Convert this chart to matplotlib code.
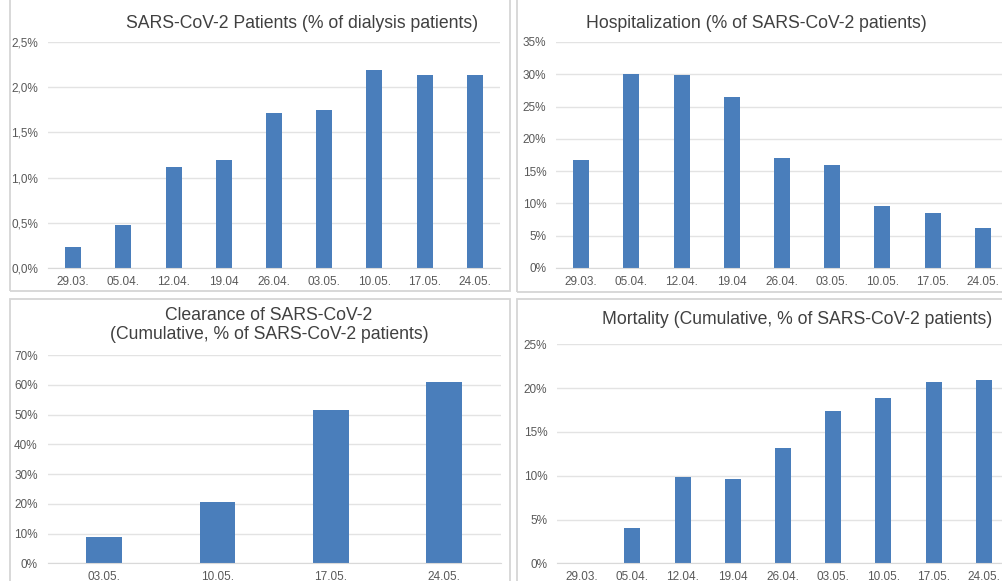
import matplotlib.pyplot as plt
from matplotlib.patches import Rectangle
from matplotlib.ticker import FuncFormatter

plt.rcParams['font.family'] = ['Liberation Sans', 'DejaVu Sans']

# data
dates = ['29.03.', '05.04.', '12.04.', '19.04', '26.04.', '03.05.', '10.05.', '17.05.', '24.05.']
patients_pct = [0.23, 0.48, 1.12, 1.20, 1.72, 1.75, 2.19, 2.13, 2.14]
hosp_pct = [16.7, 30.1, 29.9, 26.5, 17.1, 15.9, 9.6, 8.5, 6.2]
clear_dates = ['03.05.', '10.05.', '17.05.', '24.05.']
clear_pct = [8.7, 20.5, 51.4, 60.8]
mort_pct = [0.0, 4.0, 9.9, 9.6, 13.2, 17.4, 18.9, 20.7, 20.9]

W, H = 1002, 581
bar_col = '#4a7ebb'
txt_col = '#595959'
grid_col = '#e3e3e3'

fig = plt.figure(figsize=(W / 100, H / 100), dpi=100)

# panel frames (pixels: x0, y0 from top, x1, y1)
for x0, y0, x1, y1 in [(10, -5, 510, 291), (517, -5, 1010, 292),
                       (10, 299, 510, 590), (517, 299, 1010, 590)]:
    fig.patches.append(Rectangle((x0 / W, 1 - y1 / H), (x1 - x0) / W, (y1 - y0) / H,
                                 transform=fig.transFigure, fill=False,
                                 edgecolor='#d6d6d6', linewidth=1.3))


def make_ax(left, top, right, bottom):
    return fig.add_axes([left / W, 1 - bottom / H, (right - left) / W, (bottom - top) / H])


def style(ax, labels, ymax, step, fmt):
    ax.set_xlim(-0.5, len(labels) - 0.5)
    ax.set_ylim(0, ymax)
    ax.set_xticks(range(len(labels)))
    ax.set_xticklabels(labels)
    ticks = []
    v = 0
    while v <= ymax + 1e-9:
        ticks.append(v)
        v += step
    ax.set_yticks(ticks)
    ax.yaxis.set_major_formatter(FuncFormatter(fmt))
    ax.grid(axis='y', color=grid_col, linewidth=1.0)
    ax.set_axisbelow(True)
    for s in ['top', 'right', 'left']:
        ax.spines[s].set_visible(False)
    ax.spines['bottom'].set_color('#d9d9d9')
    ax.tick_params(length=0, labelsize=8.5, colors=txt_col)
    ax.tick_params(axis='x', pad=5.5)
    ax.tick_params(axis='y', pad=7)
    ax.set_facecolor('none')


pct_comma = lambda v, p: ('%.1f%%' % v).replace('.', ',')
pct_int = lambda v, p: '%d%%' % round(v)

ax1 = make_ax(48, 42, 500, 268)
ax1.bar(range(len(dates)), patients_pct, width=0.32, color=bar_col)
style(ax1, dates, 2.5, 0.5, pct_comma)

ax2 = make_ax(556, 42, 1008, 268)
ax2.bar(range(len(dates)), hosp_pct, width=0.32, color=bar_col)
style(ax2, dates, 35, 5, pct_int)

ax3 = make_ax(47.5, 355, 501, 563.3)
ax3.bar(range(len(clear_dates)), clear_pct, width=0.315, color=bar_col)
style(ax3, clear_dates, 70, 10, pct_int)

ax4 = make_ax(557, 344.3, 1009, 563.3)
ax4.bar(range(len(dates)), mort_pct, width=0.32, color=bar_col)
style(ax4, dates, 25, 5, pct_int)

tkw = dict(ha='center', va='center', fontsize=12.7, color='#404040')
fig.text(302 / W, 1 - 23 / H, 'SARS-CoV-2 Patients (% of dialysis patients)', **tkw)
fig.text(756 / W, 1 - 23 / H, 'Hospitalization (% of SARS-CoV-2 patients)', **tkw)
fig.text(269 / W, 1 - 325 / H, 'Clearance of SARS-CoV-2\n(Cumulative, % of SARS-CoV-2 patients)',
         linespacing=1.15, **tkw)
fig.text(797 / W, 1 - 320 / H, 'Mortality (Cumulative, % of SARS-CoV-2 patients)', **tkw)

fig.savefig('out.png', dpi=100)
